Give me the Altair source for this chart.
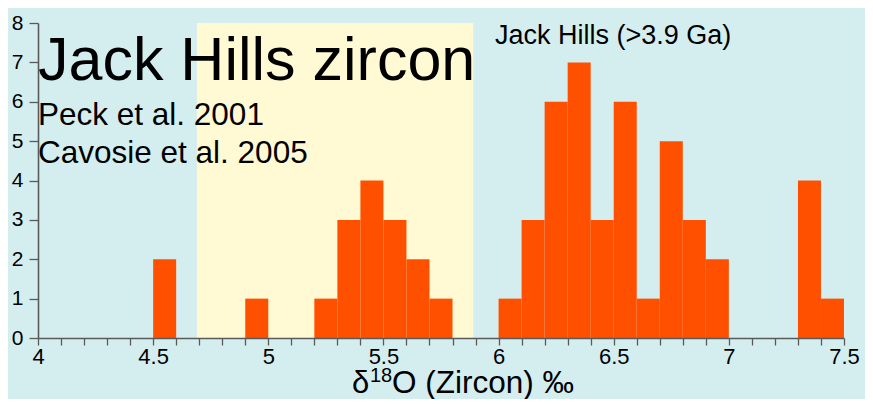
import altair as alt
import pandas as pd

# Histogram of δ18O (zircon), bin width 0.1 ‰
bin_starts = [4.5, 4.9, 5.2, 5.3, 5.4, 5.5, 5.6, 5.7,
              6.0, 6.1, 6.2, 6.3, 6.4, 6.5, 6.6, 6.7, 6.8, 6.9,
              7.3, 7.4]
counts = [2, 1, 1, 3, 4, 3, 2, 1,
          1, 3, 6, 7, 3, 6, 1, 5, 3, 2,
          4, 1]
bin_width = 0.1

# Highlighted (mantle-like) band
band_start = [4.69]
band_end = [5.89]
band_top = [8]

x_tick_values = [4.0, 4.1, 4.2, 4.3, 4.4, 4.5, 4.6, 4.7, 4.8, 4.9,
                 5.0, 5.1, 5.2, 5.3, 5.4, 5.5, 5.6, 5.7, 5.8, 5.9,
                 6.0, 6.1, 6.2, 6.3, 6.4, 6.5, 6.6, 6.7, 6.8, 6.9,
                 7.0, 7.1, 7.2, 7.3, 7.4, 7.5]
x_label_values = [4, 4.5, 5, 5.5, 6, 6.5, 7, 7.5]
y_tick_values = [0, 1, 2, 3, 4, 5, 6, 7, 8]

annotations = ["Jack Hills zircon", "Peck et al. 2001",
               "Cavosie et al. 2005", "Jack Hills (>3.9 Ga)"]
x_title_parts = ["δ", "18", "O (Zircon) ‰"]

FONT = "Liberation Sans"
BG = "#d4eef0"
YELLOW = "#fffad4"
ORANGE = "#ff5000"
AXIS = "#5a5a5a"

bars = pd.DataFrame({
    "start": bin_starts,
    "end": [round(s + bin_width, 2) for s in bin_starts],
    "count": counts,
    "zero": [0] * len(counts),
})
band = pd.DataFrame({"start": band_start, "end": band_end,
                     "top": band_top, "zero": [0]})

xscale = alt.Scale(domain=[4, 7.5], nice=False, zero=False)
yscale = alt.Scale(domain=[0, 8], nice=False)

label_list = "[" + ",".join(str(v) for v in x_label_values) + "]"
xaxis = alt.Axis(
    values=x_tick_values,
    labelExpr=f"indexof({label_list}, round(datum.value*10)/10) >= 0 ? format(datum.value, '~g') : ''",
    title=None,
    labelFont=FONT, labelFontSize=22, labelColor="black", labelPadding=1,
    tickSize=7, tickColor=AXIS, tickWidth=1.3,
    domainColor=AXIS, domainWidth=1.6, grid=False, zindex=1,
    labelOverlap=False, labelFlush=False,
)
yaxis = alt.Axis(
    values=y_tick_values, title=None,
    labelFont=FONT, labelFontSize=21, labelColor="black", labelPadding=6,
    tickSize=9, tickColor=AXIS, tickWidth=1.3,
    domainColor=AXIS, domainWidth=1.6, grid=False, zindex=1,
    labelOverlap=False, labelFlush=False,
)

band_layer = alt.Chart(band).mark_rect(color=YELLOW).encode(
    x=alt.X("start:Q", scale=xscale, axis=xaxis),
    x2="end:Q",
    y=alt.Y("top:Q", scale=yscale, axis=yaxis),
    y2="zero:Q",
)

bar_layer = alt.Chart(bars).mark_rect(color=ORANGE).encode(
    x=alt.X("start:Q", scale=xscale, axis=xaxis),
    x2="end:Q",
    y=alt.Y("count:Q", scale=yscale, axis=yaxis),
    y2="zero:Q",
)

def label(text, x, y, size):
    return alt.Chart(pd.DataFrame({"t": [text]})).mark_text(
        font=FONT, fontSize=size, align="left", baseline="alphabetic",
        color="black",
    ).encode(x=alt.value(x), y=alt.value(y), text="t:N")

t1 = label(annotations[0], 0, 57, 61)
t2 = label(annotations[1], 0, 102, 31.5)
t3 = label(annotations[2], 0, 140, 31.5)
t4 = label(annotations[3], 457, 21, 27)

# x-axis title with a real superscript
xt1 = label(x_title_parts[0], 314, 370, 31)
xt2 = label(x_title_parts[1], 332, 359, 20)
xt3 = label(x_title_parts[2], 354, 370, 31.5)

chart = alt.layer(band_layer, bar_layer, t1, t2, t3, t4, xt1, xt2, xt3).properties(
    width=806, height=315,
    background=BG,
    autosize=alt.AutoSizeParams(type="none"),
    padding={"left": 30, "top": 15, "right": 21, "bottom": 61},
).configure_view(strokeOpacity=0).configure_axis(labelOverlap=False)

chart.save("out.html", embed_options={"renderer": "svg", "actions": False})
